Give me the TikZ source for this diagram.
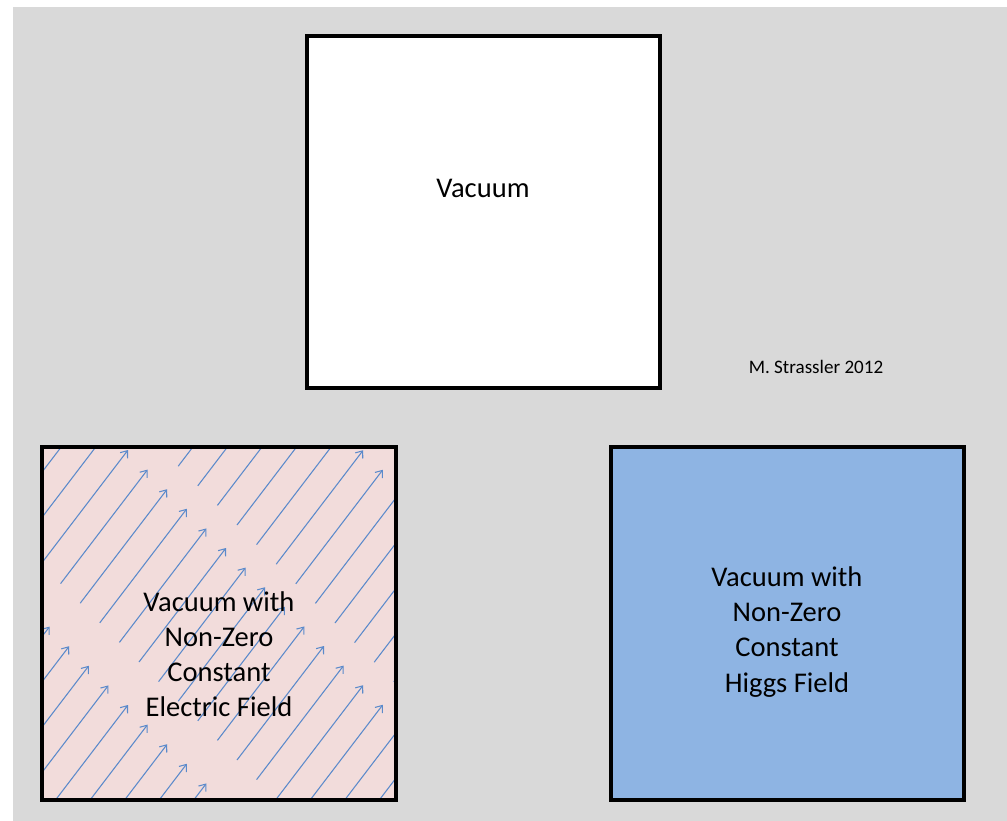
\documentclass[tikz,border=0pt]{standalone}
\usepackage{fontspec}
\setmainfont{Carlito}
\usetikzlibrary{arrows.meta}
\definecolor{panel}{HTML}{D9D9D9}
\definecolor{pinkfill}{HTML}{F2DCDB}
\definecolor{higgsfill}{HTML}{8EB4E3}
\definecolor{fieldline}{HTML}{5B8ACB}
\tikzset{
  frame/.style={draw=black, line width=2.6pt, line join=miter},
  field/.style={draw=fieldline, line width=0.8pt, -{Straight Barb[length=4.5pt,width=7pt]}},
  lab/.style={text=black, font=\fontsize{21.4}{26.3}\selectfont, align=center, inner sep=0pt},
  labs/.style={text=black, font=\fontsize{14.3}{17}\selectfont, inner sep=0pt},
}
\begin{document}
\begin{tikzpicture}[x=0.75pt, y=-0.75pt]
  \useasboundingbox (0,0) rectangle (1007,821);
  \fill[white] (0,0) rectangle (1007,821);
  \fill[panel] (13,7) rectangle (1007,821);
  % top box
  \draw[frame, fill=white] (307,36) rectangle (660,388);
  \node[lab] (vac) at (483,188) {Vacuum};
  \node[labs] (credit) at (816,367) {M. Strassler 2012};
  % electric field box
  \fill[pinkfill] (42,447) rectangle (396,800);
  \begin{scope}
    \clip (42,447) rectangle (396,800);
    \foreach \c in {87,322,577}{
      \foreach \j in {-14,...,20}{
        \draw[field] ({128+19.6*\j-87},{128+19.6*\j+\c+114}) -- ({128+19.6*\j},{128+19.6*\j+\c});
      }
    }
  \end{scope}
  \draw[frame] (42,447) rectangle (396,800);
  \node[lab] (efield) at (219,654) {Vacuum with\\Non-Zero\\Constant\\Electric Field};
  % higgs box
  \draw[frame, fill=higgsfill] (611,447) rectangle (964,800);
  \node[lab] (higgs) at (787,632) {Vacuum with\\Non-Zero\\Constant\\Higgs Field};
\end{tikzpicture}
\end{document}
